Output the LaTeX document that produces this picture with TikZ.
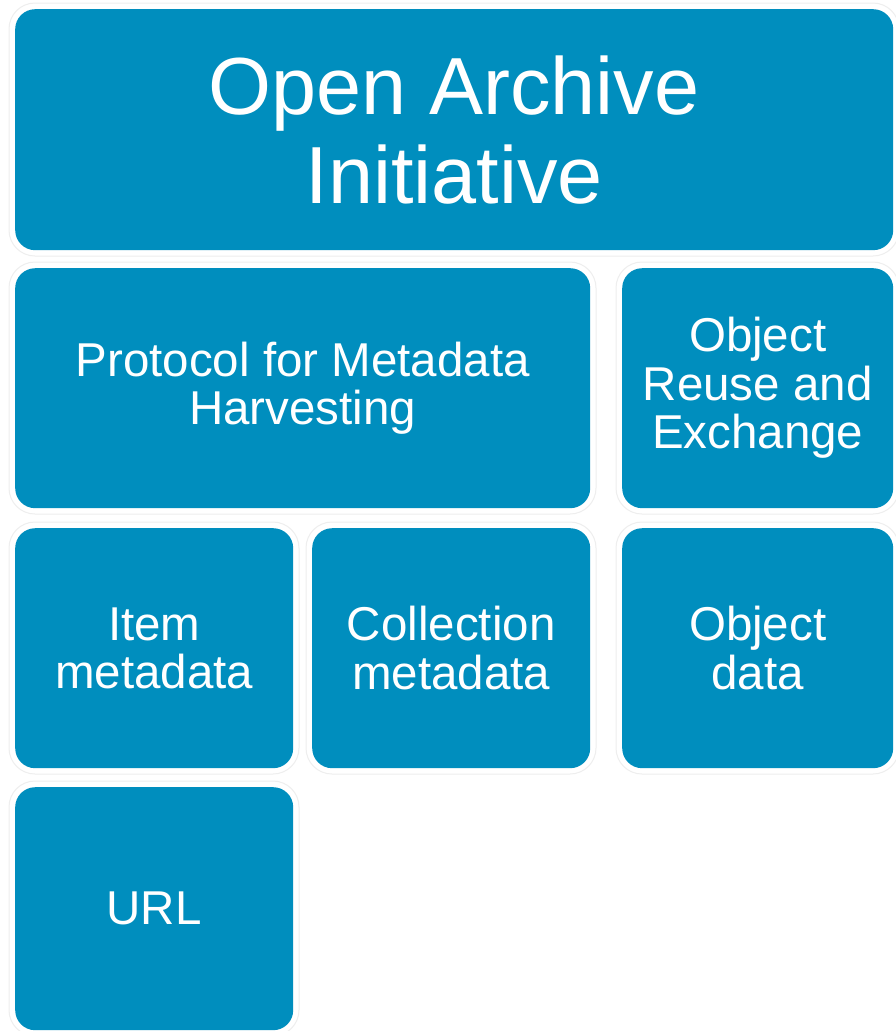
\documentclass[tikz,border=0pt]{standalone}
\usepackage{fontspec}
\setmainfont{Liberation Sans}
\definecolor{oaiblue}{RGB}{0,142,190}
\definecolor{halo}{RGB}{238,238,238}
\tikzset{
  tile/.style={fill=oaiblue, rounded corners=20pt, draw=none, text=white,
    align=center, inner sep=0pt, anchor=north west},
  big/.style={font=\fontsize{81}{89}\selectfont},
  mid/.style={font=\fontsize{47.5}{48.5}\selectfont},
}
\newcommand{\halobox}[4]{%
  \draw[halo, line width=1pt, rounded corners=26pt] (#1-6,#2-6) rectangle (#3+6,#4+6);}
\begin{document}
\begin{tikzpicture}[x=1pt,y=-1pt]
\useasboundingbox (0,0) rectangle (895,1031);
\fill[white] (0,0) rectangle (895,1031);
\halobox{15}{9}{893}{250}
\halobox{15}{268}{590}{508}
\halobox{622}{268}{893}{508}
\halobox{15}{528}{293}{768}
\halobox{312}{528}{590}{768}
\halobox{622}{528}{893}{768}
\halobox{15}{787}{293}{1030}
\node[tile, big, minimum width=878pt, minimum height=241pt] (oai) at (15,9) {Open Archive\\Initiative};
\node[tile, mid, minimum width=575pt, minimum height=240pt] (pmh) at (15,268) {Protocol for Metadata\\Harvesting};
\node[tile, mid, minimum width=271pt, minimum height=240pt] (ore) at (622,268) {Object\\Reuse and\\Exchange};
\node[tile, mid, minimum width=278pt, minimum height=240pt] (item) at (15,528) {Item\\metadata};
\node[tile, mid, minimum width=278pt, minimum height=240pt] (coll) at (312,528) {Collection\\metadata};
\node[tile, mid, minimum width=271pt, minimum height=240pt] (objd) at (622,528) {Object\\data};
\node[tile, mid, minimum width=278pt, minimum height=243pt] (url) at (15,787) {URL};
\end{tikzpicture}
\end{document}
